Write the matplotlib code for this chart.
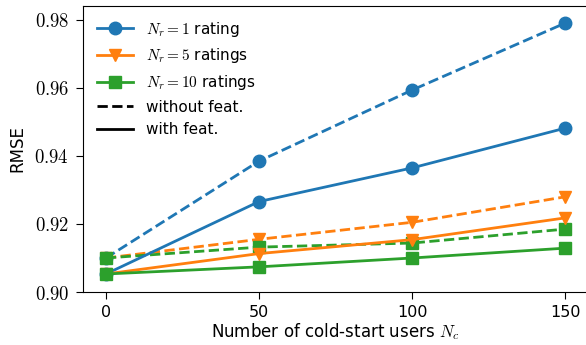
import numpy as np
import matplotlib.pyplot as plt
from matplotlib.lines import Line2D

plt.rcParams['mathtext.fontset'] = 'cm'
plt.rcParams['font.size'] = 11

# Data
n_cold = [0, 50, 100, 150]
yticks = [0.90, 0.92, 0.94, 0.96, 0.98]

# without features (dashed)
r1_nofeat = [0.9100, 0.9385, 0.9594, 0.9791]
r5_nofeat = [0.9100, 0.9155, 0.9205, 0.9280]
r10_nofeat = [0.9100, 0.9132, 0.9144, 0.9185]
# with features (solid)
r1_feat = [0.9053, 0.9266, 0.9365, 0.9482]
r5_feat = [0.9053, 0.9113, 0.9154, 0.9218]
r10_feat = [0.9053, 0.9074, 0.9100, 0.9129]

colors = ['tab:blue', 'tab:orange', 'tab:green']
markers = ['o', 'v', 's']
labels = [r'$N_r = 1$ rating', r'$N_r = 5$ ratings', r'$N_r = 10$ ratings']

fig, ax = plt.subplots(figsize=(5.86, 3.45), dpi=100)
# axes runs slightly past the right edge (image was cropped)
fig.subplots_adjust(left=0.1416, right=1.004, top=0.9826, bottom=0.1536)

for vals, c, m in zip([r1_nofeat, r5_nofeat, r10_nofeat], colors, markers):
    ax.plot(n_cold, vals, color=c, marker=m, linestyle='--', linewidth=2, markersize=9)
for vals, c, m in zip([r1_feat, r5_feat, r10_feat], colors, markers):
    ax.plot(n_cold, vals, color=c, marker=m, linestyle='-', linewidth=2, markersize=9)

ax.set_xticks(n_cold)
ax.set_yticks(yticks)
ax.set_yticklabels([f'${v:.2f}$' for v in yticks], fontsize=13.5)
ax.tick_params(axis='both', length=5, pad=5)
ax.tick_params(axis='x', labelsize=11.5, pad=4)
ax.set_ylim(0.90, 0.9841)
ax.set_xlabel(r'Number of cold-start users $N_c$', fontsize=12, labelpad=1.5)
ax.set_ylabel('RMSE', fontsize=12, labelpad=6)
ax.spines['right'].set_visible(False)

handles = [Line2D([], [], color=c, marker=m, linewidth=2, markersize=9)
           for c, m in zip(colors, markers)]
handles += [Line2D([], [], color='k', linestyle='--', linewidth=2),
            Line2D([], [], color='k', linestyle='-', linewidth=2)]
ax.legend(handles, labels + ['without feat.', 'with feat.'], loc='upper left',
          frameon=False, handlelength=2.4)

plt.savefig('out.png')
